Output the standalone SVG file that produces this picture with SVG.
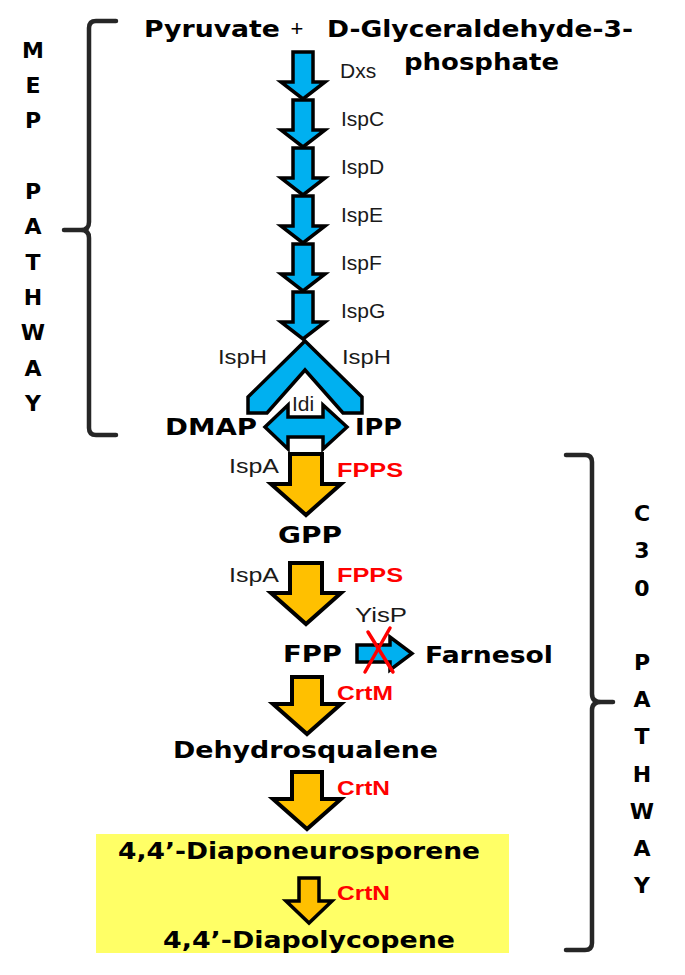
<svg xmlns="http://www.w3.org/2000/svg" xmlns:xlink="http://www.w3.org/1999/xlink" width="685" height="975" viewBox="0 0 685 975">
<style>
.nm{font-family:"DejaVu Sans","Liberation Sans",sans-serif;font-weight:bold;font-size:23px;fill:#000}
.lb{font-family:"Liberation Sans",Arial,sans-serif;font-size:21px;fill:#1a1a1a}
.rd{font-family:"Liberation Sans",Arial,sans-serif;font-weight:bold;font-size:21px;fill:#ff0000}
.vt{font-family:"DejaVu Sans","Liberation Sans",sans-serif;font-weight:bold;font-size:22px;fill:#000;text-anchor:middle}
.blue{fill:#00b0f0;stroke:#000;stroke-width:3.5;stroke-linejoin:miter}
.org{fill:#ffc000;stroke:#000;stroke-width:4;stroke-linejoin:miter}
.brk{fill:none;stroke:#262626;stroke-width:4.5;stroke-linecap:round;stroke-linejoin:round}
</style>
<defs>
<path id="barrow" d="M-10,0 H10 V30 H22 L0,47 L-22,30 H-10 Z"/>
<path id="oarrow" d="M-16,0 H16 V30 H35 L0,61 L-35,30 H-16 Z"/>
<path id="oarrow2" d="M-15,0 H15 V27 H34 L0,57 L-34,27 H-15 Z"/>
<path id="sarrow" d="M-10,0 H10 V23 H23 L0,45 L-23,23 H-10 Z"/>
</defs>

<rect id="highlight" x="96" y="834" width="413" height="119" fill="#ffff66"/>

<g id="mep-bracket">
<path class="brk" d="M116,21 H96 Q89,21 89,28 V222 Q89,230 81,230 H64 M81,230 Q89,230 89,238 V428 Q89,435 96,435 H116"/>
<g class="vt">
<text x="33" y="58">M</text>
<text x="33" y="93">E</text>
<text x="33" y="128">P</text>
<text x="33" y="199">P</text>
<text x="33" y="234">A</text>
<text x="33" y="270">T</text>
<text x="33" y="305">H</text>
<text x="33" y="340">W</text>
<text x="33" y="376">A</text>
<text x="33" y="411">Y</text>
</g>
</g>

<g id="c30-bracket">
<path class="brk" d="M566,455 H585 Q592,455 592,462 V694 Q592,702 601,702 H613 M601,702 Q592,702 592,710 V943 Q592,950 585,950 H566"/>
<g class="vt">
<text x="642" y="521">C</text>
<text x="642" y="558">3</text>
<text x="642" y="596">0</text>
<text x="642" y="670">P</text>
<text x="642" y="707">A</text>
<text x="642" y="744">T</text>
<text x="642" y="782">H</text>
<text x="642" y="819">W</text>
<text x="642" y="856">A</text>
<text x="642" y="893">Y</text>
</g>
</g>

<g id="connectors">
<use xlink:href="#barrow" href="#barrow" class="blue" transform="translate(303,52)"/>
<use xlink:href="#barrow" href="#barrow" class="blue" transform="translate(303,100)"/>
<use xlink:href="#barrow" href="#barrow" class="blue" transform="translate(303,148)"/>
<use xlink:href="#barrow" href="#barrow" class="blue" transform="translate(303,196)"/>
<use xlink:href="#barrow" href="#barrow" class="blue" transform="translate(303,244)"/>
<use xlink:href="#barrow" href="#barrow" class="blue" transform="translate(303,292)"/>
<text class="lb" x="340" y="78">Dxs</text>
<text class="lb" x="341" y="126">IspC</text>
<text class="lb" x="341" y="174">IspD</text>
<text class="lb" x="341" y="222">IspE</text>
<text class="lb" x="341" y="270">IspF</text>
<text class="lb" x="341" y="318">IspG</text>

<polygon class="blue" points="305,341 362,397 362,413 343,413 305,370 267,413 248,413 248,397"/>
<text class="lb" x="218" y="364" textLength="49" lengthAdjust="spacingAndGlyphs">IspH</text>
<text class="lb" x="342" y="364" textLength="49" lengthAdjust="spacingAndGlyphs">IspH</text>

<path class="blue" d="M265,427 L288,405 V417 H323 V405 L347,427 L323,449 V437 H288 V449 Z"/>
<text class="lb" x="292" y="411">Idi</text>

<use xlink:href="#oarrow" href="#oarrow" class="org" transform="translate(306,454)"/>
<text class="lb" x="229" y="473" textLength="50" lengthAdjust="spacingAndGlyphs">IspA</text>
<text class="rd" x="337" y="477" textLength="66" lengthAdjust="spacingAndGlyphs">FPPS</text>

<use xlink:href="#oarrow" href="#oarrow" class="org" transform="translate(306,563)"/>
<text class="lb" x="229" y="582" textLength="50" lengthAdjust="spacingAndGlyphs">IspA</text>
<text class="rd" x="337" y="582" textLength="66" lengthAdjust="spacingAndGlyphs">FPPS</text>

<path class="blue" d="M357,645 H390 V637 L412,653.5 L390,670 V662 H357 Z"/>
<text class="lb" x="355" y="622" textLength="52" lengthAdjust="spacingAndGlyphs">YisP</text>
<g stroke="#ff0000" stroke-width="3.5" stroke-linecap="round">
<line x1="368" y1="632" x2="393" y2="672"/>
<line x1="390" y1="628" x2="365" y2="672"/>
</g>

<use xlink:href="#oarrow2" href="#oarrow2" class="org" transform="translate(307,677)"/>
<text class="rd" x="337" y="700" textLength="56" lengthAdjust="spacingAndGlyphs">CrtM</text>

<use xlink:href="#oarrow2" href="#oarrow2" class="org" transform="translate(307,772)"/>
<text class="rd" x="337" y="795" textLength="53" lengthAdjust="spacingAndGlyphs">CrtN</text>

<use xlink:href="#sarrow" href="#sarrow" class="org" transform="translate(309,878)" style="stroke-width:3.5"/>
<text class="rd" x="337" y="900" textLength="53" lengthAdjust="spacingAndGlyphs">CrtN</text>
</g>

<g id="substrates">
<text class="nm" x="144" y="37" textLength="136" lengthAdjust="spacingAndGlyphs">Pyruvate</text>
<text x="297" y="36" text-anchor="middle" style="font-family:'Liberation Sans',Arial,sans-serif;font-size:22px;fill:#000">+</text>
<text class="nm" x="327" y="37" textLength="306" lengthAdjust="spacingAndGlyphs">D-Glyceraldehyde-3-</text>
<text class="nm" x="404" y="70" textLength="155" lengthAdjust="spacingAndGlyphs">phosphate</text>
</g>

<g id="dmap"><text class="nm" x="165" y="435" textLength="92" lengthAdjust="spacingAndGlyphs">DMAP</text></g>
<g id="ipp"><text class="nm" x="355" y="435" textLength="47" lengthAdjust="spacingAndGlyphs">IPP</text></g>
<g id="gpp"><text class="nm" x="278" y="543" textLength="64" lengthAdjust="spacingAndGlyphs">GPP</text></g>
<g id="fpp"><text class="nm" x="283" y="662" textLength="59" lengthAdjust="spacingAndGlyphs">FPP</text></g>
<g id="farnesol"><text class="nm" x="425" y="663" textLength="128" lengthAdjust="spacingAndGlyphs">Farnesol</text></g>
<g id="dehydrosqualene"><text class="nm" x="173" y="758" textLength="265" lengthAdjust="spacingAndGlyphs">Dehydrosqualene</text></g>
<g id="diaponeurosporene"><text class="nm" x="118" y="859" textLength="362" lengthAdjust="spacingAndGlyphs">4,4’-Diaponeurosporene</text></g>
<g id="diapolycopene"><text class="nm" x="163" y="948" textLength="292" lengthAdjust="spacingAndGlyphs">4,4’-Diapolycopene</text></g>
</svg>
